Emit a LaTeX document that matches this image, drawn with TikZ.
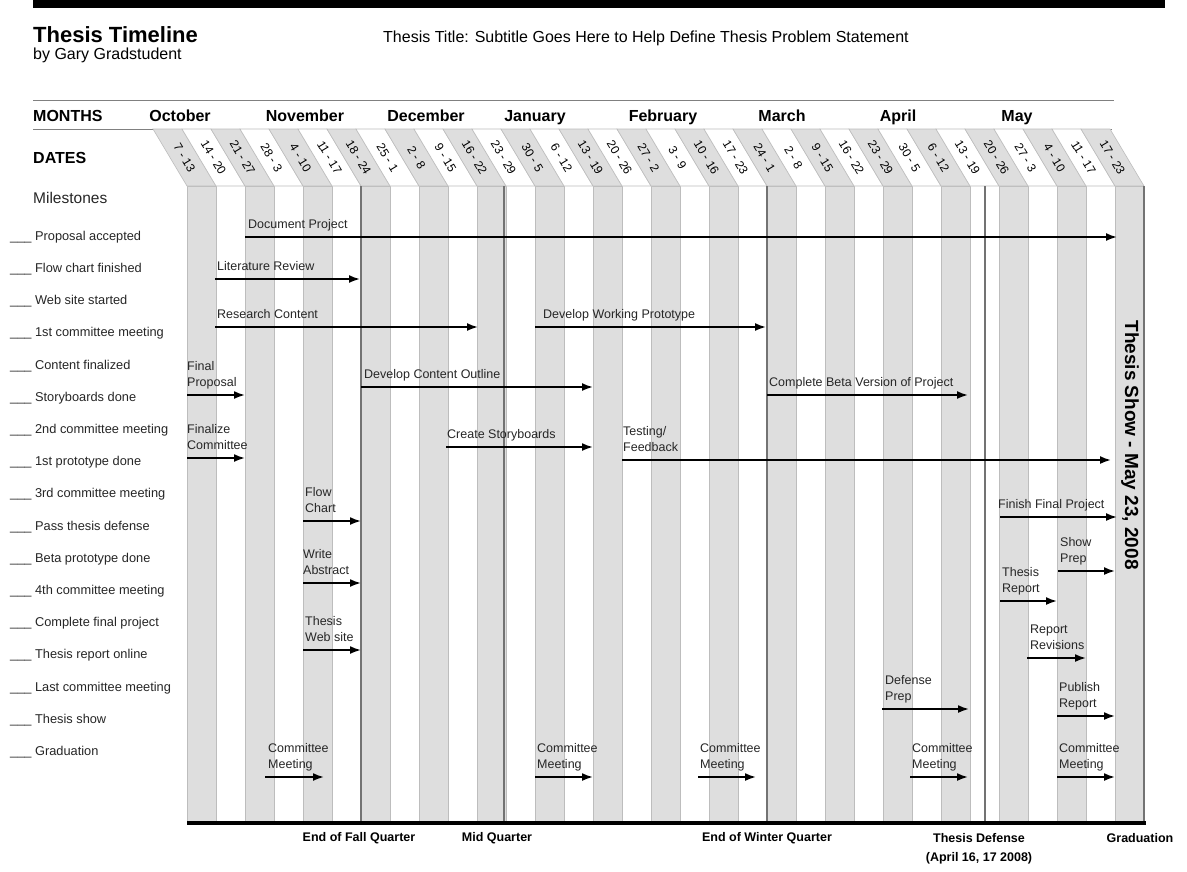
\documentclass[tikz,border=0pt]{standalone}
\usepackage{fontspec}
\setmainfont{Liberation Sans}
\usetikzlibrary{arrows.meta,positioning}

\definecolor{stripeedge}{gray}{0.74}
\definecolor{divider}{gray}{0.45}
\definecolor{inkgray}{gray}{0.15}

\tikzset{
  task/.style={line width=1.8pt, -{Latex[length=11pt,width=8pt]}},
  tasklabel/.style={anchor=south west, inner sep=0pt, align=left, text=inkgray,
    font=\fontsize{12.5}{16}\selectfont},
  milestone/.style={anchor=west, inner sep=0pt, text=inkgray, font=\fontsize{12.8}{15}\selectfont},
  monthlabel/.style={anchor=base, inner sep=0pt, font=\bfseries\fontsize{16}{18}\selectfont},
  datelabel/.style={inner sep=0pt, rotate=-59, font=\fontsize{12}{14}\selectfont},
  endlabel/.style={inner sep=0pt, font=\bfseries\fontsize{12.5}{14}\selectfont},
}

\begin{document}
\begin{tikzpicture}[x=1pt,y=-1pt]
  \useasboundingbox (0,0) rectangle (1187,871);
  \fill[white] (0,0) rectangle (1187,871);

  % title block
  \fill[black] (33,0) rectangle (1165,8);
  \node[anchor=base west, inner sep=0pt, font=\bfseries\fontsize{22}{24}\selectfont] (title) at (33,42) {Thesis Timeline};
  \node[anchor=base west, inner sep=0pt, font=\fontsize{16}{18}\selectfont] (author) at (33,59) {by Gary Gradstudent};
  \node[anchor=base west, inner sep=0pt, font=\fontsize{16}{18}\selectfont] (thesis) at (383,42) {Thesis Title: Subtitle Goes Here to Help Define Thesis Problem Statement};

  \draw[gray, line width=0.8pt] (33,100) -- (1114,100);
  \draw[gray, line width=0.8pt] (33,129) -- (1112,129);

  % months
  \node[monthlabel, anchor=base west] (months) at (33,121) {MONTHS};
  \foreach \mx/\mn in {180/October, 305/November, 426/December, 535/January,
                       663/February, 782/March, 898/April, 1017/May}
    \node[monthlabel] (mo-\mn) at (\mx,121) {\mn};

  % week columns
  \node[monthlabel, anchor=base west] (dates) at (33,163) {DATES};
  \foreach \k in {0,2,...,32}
    \filldraw[fill=black!13, draw=stripeedge, line width=0.6pt] (187+29*\k,186) rectangle ++(29,636);
  \foreach \d [count=\k from 0] in {7 - 13, 14 - 20, 21 - 27, 28 - 3, 4 - 10, 11 - 17, 18 - 24,
      25 - 1, 2 - 8, 9 - 15, 16 - 22, 23 - 29, 30 - 5, 6 - 12, 13 - 19, 20 - 26, 27 - 2,
      3 - 9, 10 - 16, 17 - 23, 24 - 1, 2 - 8, 9 - 15, 16 - 22, 23 - 29, 30 - 5, 6 - 12,
      13 - 19, 20 - 26, 27 - 3, 4 - 10, 11 - 17, 17 - 23} {
    \pgfmathtruncatemacro\tone{mod(\k,2)==0 ? 13 : 0}
    \filldraw[fill=black!\tone, draw=stripeedge, line width=0.6pt]
      (187+29*\k,186) -- ++(29,0) -- ++(-34,-57) -- ++(-29,0) -- cycle;
    \node[datelabel] (wk\k) at (187+29*\k-2.5,157.5) {\d};
  }

  % quarter dividers
  \foreach \x in {361,504,767,985,1144}
    \draw[divider, line width=2.4pt] (\x,186) -- (\x,822);
  \draw[black, line width=3.5pt] (187,823) -- (1146,823);

  % milestones
  \node[anchor=west, inner sep=0pt, text=inkgray, font=\fontsize{15.5}{17}\selectfont] (mhead) at (33,198) {Milestones};
  \foreach \m [count=\i from 0] in {Proposal accepted, Flow chart finished, Web site started,
      1st committee meeting, Content finalized, Storyboards done, 2nd committee meeting,
      1st prototype done, 3rd committee meeting, Pass thesis defense, Beta prototype done,
      4th committee meeting, Complete final project, Thesis report online,
      Last committee meeting, Thesis show, Graduation}
    \node[milestone] (ms\i) at (10,237+32.2*\i) {\_\_\_ \m};

  % tasks
  \foreach \xa/\xb/\ya/\lx/\txt [count=\i] in {
      245/1117/237/248/{Document Project},
      215/360/279/217/{Literature Review},
      215/478/327/217/{Research Content},
      535/766/327/543/{Develop Working Prototype},
      187/245/395/187/{Final\\Proposal},
      361/593/387/364/{Develop Content Outline},
      767/968/395/769/{Complete Beta Version of Project},
      187/245/458/187/{Finalize\\Committee},
      446/593/447/447/{Create Storyboards},
      622/1111/460/623/{Testing/\\Feedback},
      303/361/521/305/{Flow\\Chart},
      1000/1117/517/998/{Finish Final Project},
      303/361/583/303/{Write\\Abstract},
      1058/1115/571/1060/{Show\\Prep},
      1000/1057/601/1002/{Thesis\\Report},
      303/361/650/305/{Thesis\\Web site},
      1027/1086/658/1030/{Report\\Revisions},
      882/969/709/885/{Defense\\Prep},
      1057/1115/716/1059/{Publish\\Report},
      265/324/777/268/{Committee\\Meeting},
      535/593/777/537/{Committee\\Meeting},
      698/756/777/700/{Committee\\Meeting},
      910/968/777/912/{Committee\\Meeting},
      1057/1115/777/1059/{Committee\\Meeting}} {
    \coordinate (t\i-s) at (\xa,\ya);
    \coordinate (t\i-e) at (\xb,\ya);
    \draw[task] (t\i-s) -- (t\i-e);
    \node[tasklabel] (t\i-l) at (\lx,\ya-3.2) {\txt\strut};
  }

  % thesis show
  \node[rotate=-90, inner sep=0pt, font=\bfseries\fontsize{19}{21}\selectfont] (show) at (1130,445) {Thesis Show - May 23, 2008};

  % quarter labels
  \node[endlabel] (q-fall) at (359,838) {End of Fall Quarter};
  \node[endlabel] (q-mid) at (497,838) {Mid Quarter};
  \node[endlabel] (q-winter) at (767,838) {End of Winter Quarter};
  \node[endlabel] (q-defense) at (979,838) {Thesis Defense};
  \node[endlabel, below=9pt of q-defense] (q-date) {(April 16, 17 2008)};
  \node[endlabel] (q-grad) at (1140,838) {Graduation};
\end{tikzpicture}
\end{document}
